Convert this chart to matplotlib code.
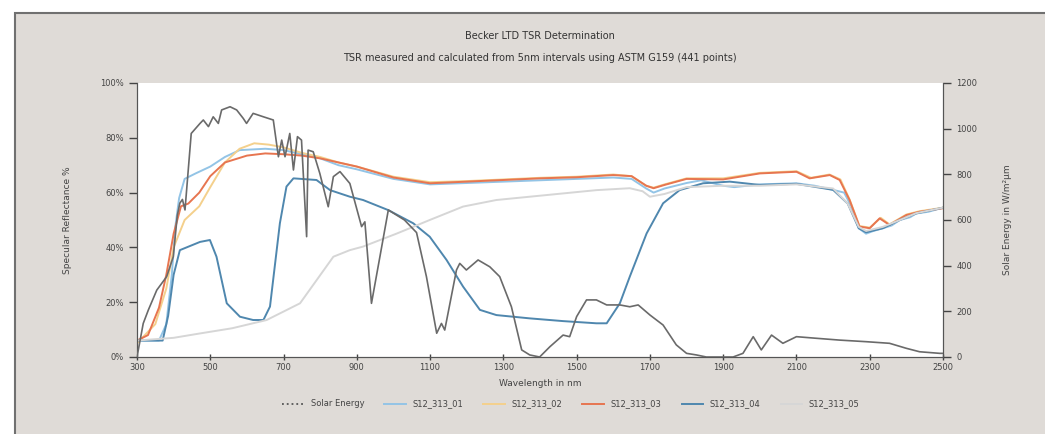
import matplotlib
matplotlib.use("Agg")
import matplotlib.pyplot as plt
from matplotlib.patches import Rectangle
from matplotlib.lines import Line2D

# Solar energy (W/m2um), right axis
solar_nm = [300, 317, 331, 354, 381, 399, 410, 417, 424, 431, 448, 472, 481, 495, 508,
            522, 531, 554, 572, 590, 599, 617, 645, 672, 686, 695, 704, 717, 727, 738,
            749, 763, 767, 781, 799, 822, 836, 854, 881, 913, 922, 940, 963, 986, 1030,
            1063, 1090, 1118, 1131, 1140, 1172, 1181, 1199, 1231, 1263, 1290, 1322, 1350,
            1372, 1399, 1427, 1463, 1481, 1500, 1527, 1554, 1582, 1618, 1645, 1668, 1700,
            1736, 1772, 1800, 1827, 1854, 1891, 1927, 1954, 1982, 2004, 2032, 2063, 2100,
            2154, 2218, 2291, 2354, 2400, 2436, 2491, 2500]
solar_w = [0, 147, 206, 293, 352, 439, 620, 674, 690, 644, 979, 1023, 1038, 1009, 1052,
           1023, 1082, 1096, 1082, 1045, 1023, 1067, 1052, 1038, 877, 950, 877, 979, 819, 965,
           950, 527, 906, 899, 804, 658, 790, 812, 760, 571, 592, 235, 439, 644, 600,
           545, 352, 104, 147, 118, 381, 410, 381, 425, 395, 352, 220, 31,
           9, 0, 45, 96, 89, 177, 250, 250, 228, 228, 220, 228, 184,
           140, 53, 16, 9, 0, 0, 0, 16, 89, 31, 96, 60, 89,
           82, 74, 67, 60, 38, 23, 16, 16]

# Specular reflectance (%), left axis
s01_nm = [300, 360, 380, 395, 405, 415, 430, 460, 500, 540, 580, 650, 700, 750, 800, 850,
          900, 1000, 1100, 1200, 1300, 1400, 1500, 1600, 1650, 1690, 1710, 1740, 1800, 1840,
          1900, 1930, 2000, 2100, 2150, 2200, 2230, 2250, 2270, 2290, 2310, 2336, 2360, 2382,
          2410, 2427, 2460, 2500]
s01 = [6, 6, 12, 30, 48, 58, 65, 67, 69.5, 73, 75.5, 76, 75.5, 74, 72.5, 70,
       68.5, 65, 63, 63.5, 64, 64.5, 65, 65.5, 65, 61.5, 60, 61.5, 63.5, 64.5,
       62.5, 62, 63, 63.4, 62.5, 61, 60, 55, 47, 45, 46, 47, 48, 50,
       51, 52.4, 53, 54.5]

s02_nm = [300, 350, 380, 400, 430, 470, 500, 540, 580, 620, 660, 700, 750, 800, 850, 900,
          1000, 1100, 1200, 1300, 1400, 1500, 1600, 1650, 1690, 1710, 1740, 1800, 1900, 2000,
          2100, 2140, 2190, 2220, 2245, 2272, 2300, 2330, 2354, 2400, 2436, 2500]
s02 = [5, 12, 25, 40, 50, 55, 62, 71, 76, 78, 77.5, 76.5, 74.5, 73, 71, 69.5,
       65.8, 63.8, 64.2, 64.8, 65.4, 65.8, 66.6, 66, 62.5, 61.8, 63, 65.2, 65.2, 67.2,
       67.8, 65.4, 66.6, 64.8, 57.5, 47.8, 47.2, 50.8, 48.4, 52, 53.2, 54.5]

s03_nm = [300, 330, 360, 380, 400, 420, 440, 470, 500, 540, 600, 650, 700, 750, 800, 850,
          900, 1000, 1100, 1200, 1300, 1400, 1500, 1600, 1650, 1690, 1710, 1740, 1800, 1900,
          2000, 2100, 2136, 2191, 2218, 2245, 2272, 2300, 2327, 2354, 2400, 2436, 2500]
s03 = [6, 8, 18, 30, 45, 55, 56, 60, 66, 71, 73.5, 74.3, 74, 73.5, 72.5, 71,
       69.5, 65.5, 63.4, 64, 64.6, 65.2, 65.6, 66.4, 66, 62.5, 61.6, 62.8, 65, 64.8,
       67, 67.6, 65.2, 66.4, 64.6, 57.3, 47.6, 47, 50.6, 48.2, 51.8, 53, 54.3]

s04_nm = [300, 370, 385, 400, 417, 472, 499, 517, 545, 581, 617, 645, 663, 690, 708, 727,
          790, 827, 881, 917, 986, 1054, 1099, 1145, 1190, 1236, 1281, 1372, 1463, 1554,
          1582, 1618, 1645, 1691, 1736, 1781, 1845, 1918, 2000, 2100, 2200, 2240, 2270, 2290,
          2336, 2382, 2427, 2500]
s04 = [6, 6, 15, 30, 39, 42, 42.7, 36.6, 19.6, 14.7, 13.5, 13.5, 18.4, 48.8, 62.2, 65.2,
       64.6, 60.9, 58.5, 57.3, 53.6, 48.8, 43.9, 35.4, 25.7, 17.2, 15.3, 14.1, 13.1, 12.3,
       12.3, 19.6, 29.3, 45.1, 56.1, 60.9, 63.4, 64, 62.8, 63.2, 61, 56, 47, 45.5,
       47, 50, 52.4, 54.5]

s05_nm = [300, 400, 472, 560, 654, 745, 790, 836, 881, 917, 1008, 1099, 1190, 1281, 1372,
          1463, 1554, 1645, 1680, 1700, 1740, 1800, 1900, 2000, 2100, 2200, 2240, 2270, 2290,
          2336, 2382, 2427, 2500]
s05 = [6, 7, 8.6, 10.5, 13.5, 19.6, 28, 36.6, 39, 40.3, 45, 50, 54.9, 57.3, 58.5,
       59.7, 60.9, 61.6, 60.5, 58.5, 59.5, 62, 62.5, 62.5, 63, 61.5, 56, 47.5, 46,
       47.5, 50, 52.5, 54.5]

series = [("S12_313_01", s01_nm, s01, "#93c4e6"),
          ("S12_313_02", s02_nm, s02, "#f4d08c"),
          ("S12_313_03", s03_nm, s03, "#e77550"),
          ("S12_313_04", s04_nm, s04, "#4f87ae"),
          ("S12_313_05", s05_nm, s05, "#d6d6d6")]

W, H = 1045, 434
fig = plt.figure(figsize=(W / 100, H / 100), dpi=100, facecolor="white")

# grey panel with the dark border on top / left
fig.add_artist(Rectangle((15 / W, -0.05), 1.1, (H - 13) / H + 0.05,
                         transform=fig.transFigure, facecolor="#dfdbd7",
                         edgecolor="#707070", linewidth=1.5, zorder=0))

ax = fig.add_axes([137 / W, 77 / H, 806 / W, 274 / H])
ax.set_facecolor("white")
ax2 = ax.twinx()

txt = "#444444"
for name, nm, vals, col in series:
    ax.plot(nm, vals, color=col, lw=1.4, zorder=2)
ax2.plot(solar_nm, solar_w, color="#6a6a6a", lw=1.2, zorder=3)

ax.set_xlim(300, 2500)
ax.set_ylim(0, 100)
ax2.set_ylim(0, 1200)
ax.set_xticks(range(300, 2501, 200))
ax.set_yticks(range(0, 101, 20))
ax.set_yticklabels(["%d%%" % v for v in range(0, 101, 20)])
ax2.set_yticks(range(0, 1201, 200))

for a in (ax, ax2):
    a.tick_params(labelsize=6, colors=txt, length=6, width=1)
    for s in a.spines.values():
        s.set_color("#555555")
    a.spines["top"].set_visible(False)
ax.tick_params(axis="x", direction="inout", length=5, pad=2)

fig.text(540 / W, 1 - 36 / H, "Becker LTD TSR Determination", ha="center", va="center",
         fontsize=7, color="#333333")
fig.text(540 / W, 1 - 58 / H,
         "TSR measured and calculated from 5nm intervals using ASTM G159 (441 points)",
         ha="center", va="center", fontsize=7, color="#333333")
fig.text(540 / W, 1 - 384 / H, "Wavelength in nm", ha="center", va="center",
         fontsize=6.5, color=txt)
fig.text(67 / W, 1 - 220 / H, "Specular Reflectance %", ha="center", va="center",
         rotation=90, fontsize=6.5, color=txt)
fig.text(1008 / W, 1 - 220 / H, "Solar Energy in W/m²µm", ha="center", va="center",
         rotation=90, fontsize=6.5, color=txt)

handles = [Line2D([], [], color="#555555", lw=1.3, ls=":")]
labels = ["Solar Energy"]
for name, nm, vals, col in series:
    handles.append(Line2D([], [], color=col, lw=1.4))
    labels.append(name)
fig.legend(handles, labels, loc="center", bbox_to_anchor=(571 / W, 1 - 404 / H),
           ncol=6, frameon=False, fontsize=6, handlelength=2.6, columnspacing=2.4,
           labelcolor=txt)

fig.savefig("out.png", dpi=100, facecolor=fig.get_facecolor())
